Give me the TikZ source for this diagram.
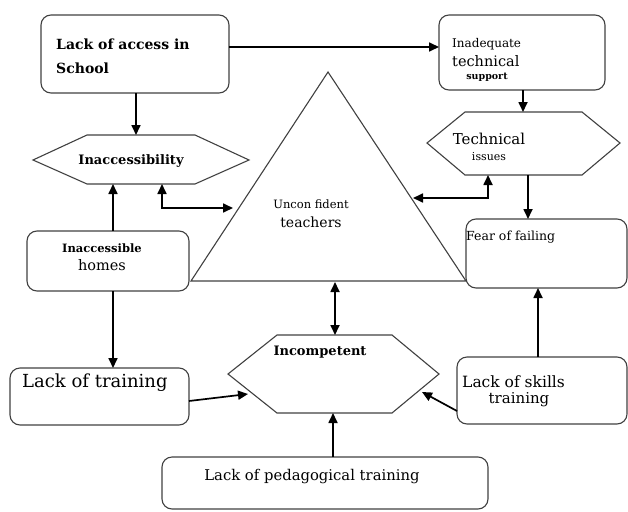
\documentclass[tikz,border=0pt]{standalone}
\usepackage{fontspec}
\setmainfont{DejaVu Serif}
\usetikzlibrary{arrows.meta}
\begin{document}
\begin{tikzpicture}[x=1pt,y=-1pt,
  box/.style={draw=black!75, line width=1.1pt, rounded corners=10pt, inner sep=0pt, outer sep=0pt},
  hexa/.style={draw=black!75, line width=1.1pt},
  arr/.style={line width=1.7pt, -{Triangle[length=10pt,width=9pt]}},
  darr/.style={line width=1.7pt, {Triangle[length=10pt,width=9pt]}-{Triangle[length=10pt,width=9pt]}},
  lbl/.style={inner sep=0pt}]
\useasboundingbox (0,0) rectangle (628,511);
% boxes
\node[box, minimum width=188pt, minimum height=78pt] (A) at (135,54) {};
\node[box, minimum width=166pt, minimum height=75pt] (B) at (522,52.5) {};
\node[box, minimum width=162pt, minimum height=60pt] (E) at (108,261) {};
\node[box, minimum width=179pt, minimum height=57pt] (F) at (99.5,396.5) {};
\node[box, minimum width=161pt, minimum height=69pt] (Fear) at (546.5,253.5) {};
\node[box, minimum width=170pt, minimum height=67pt] (I) at (542,390.5) {};
\node[box, minimum width=326pt, minimum height=52pt] (H) at (325,483) {};
% hexagons
\coordinate (Dl) at (33,160); \coordinate (Dr) at (249,160);
\draw[hexa] (Dl) -- (87,135) -- (195,135) -- (Dr) -- (195,184) -- (87,184) -- cycle;
\coordinate (Ctop) at (523,112);
\draw[hexa] (427,143) -- (465,112) -- (582,112) -- (620,143) -- (582,175) -- (465,175) -- cycle;
\coordinate (Gbot) at (333,413);
\draw[hexa] (228,374) -- (277,335) -- (392,335) -- (439,374) -- (392,413) -- (277,413) -- cycle;
% triangle
\coordinate (Tl) at (191,281); \coordinate (Tt) at (328,72); \coordinate (Tr) at (466,281);
\draw[hexa] (Tl) -- (Tt) -- (Tr) -- cycle;
% texts
\node[lbl, anchor=west, font=\fontsize{14}{14}\selectfont\bfseries] (tA1) at (56,44) {Lack of access in};
\node[lbl, anchor=west, font=\fontsize{14}{14}\selectfont\bfseries] (tA2) at (56,68) {School};
\node[lbl, anchor=west, font=\fontsize{12}{12}\selectfont] (tB1) at (452,44) {Inadequate};
\node[lbl, anchor=west, font=\fontsize{14.5}{14.5}\selectfont] (tB2) at (452,61) {technical};
\node[lbl, anchor=center, font=\fontsize{9.5}{9.5}\selectfont\bfseries] (tB3) at (487,77) {support};
\node[lbl, anchor=center, font=\fontsize{15}{15}\selectfont] (tC1) at (489,139) {Technical};
\node[lbl, anchor=center, font=\fontsize{11}{11}\selectfont] (tC2) at (489,157) {issues};
\node[lbl, anchor=center, font=\fontsize{13}{13}\selectfont\bfseries] (tD) at (131,161) {Inaccessibility};
\node[lbl, anchor=center, font=\fontsize{11.5}{11.5}\selectfont] (tT1) at (311,204) {Uncon fident};
\node[lbl, anchor=center, font=\fontsize{14}{14}\selectfont] (tT2) at (311,222) {teachers};
\node[lbl, anchor=center, font=\fontsize{11.5}{11.5}\selectfont\bfseries] (tE1) at (102,248) {Inaccessible};
\node[lbl, anchor=center, font=\fontsize{14.5}{14.5}\selectfont] (tE2) at (102,265) {homes};
\node[lbl, anchor=west, font=\fontsize{18}{18}\selectfont] (tF) at (22,383) {Lack of training};
\node[lbl, anchor=center, font=\fontsize{13}{13}\selectfont\bfseries] (tG) at (320,352) {Incompetent};
\node[lbl, anchor=west, font=\fontsize{12.5}{12.5}\selectfont] (tFear) at (466,237) {Fear of failing};
\node[lbl, anchor=west, font=\fontsize{15.5}{15.5}\selectfont] (tI1) at (462,382) {Lack of skills};
\node[lbl, anchor=center, font=\fontsize{15}{15}\selectfont] (tI2) at (519,400) {training};
\node[lbl, anchor=center, font=\fontsize{14.8}{14.8}\selectfont] (tH) at (312,477) {Lack of pedagogical training};
% connectors
\coordinate (aBw) at (B.west |- 0,47);
\draw[arr] (A.east |- aBw) -- (aBw);
\draw[arr] (A.south -| 136,0) -- (136,135);
\draw[arr] (B.south -| Ctop) -- (Ctop);
\draw[arr] (E.north -| 113,0) -- (113,184);
\coordinate (tL) at (233,208);
\draw[darr] (tL) -| (162,184);
\coordinate (tR) at (413,198);
\draw[darr] (tR) -| (488,175);
\draw[arr] (528,175) -- (Fear.north -| 528,0);
\draw[arr] (E.south -| 113,0) -- (F.north -| 113,0);
\draw[arr] (F.east |- 0,401) -- (248,394);
\draw[darr] (335,282) -- (335,335);
\draw[arr] (H.north -| Gbot) -- (Gbot);
\draw[arr] (I.west |- 0,411) -- (422,392);
\draw[arr] (I.north -| 538,0) -- (Fear.south -| 538,0);
\end{tikzpicture}
\end{document}
